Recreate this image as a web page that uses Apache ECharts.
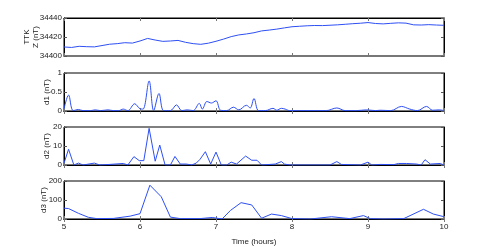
<!DOCTYPE html>
<html><head><meta charset="utf-8">
<script src="https://cdn.jsdelivr.net/npm/echarts@6/dist/echarts.min.js"></script>
<style>html,body{margin:0;padding:0;background:#fff}#c{width:491px;height:247px}</style>
</head><body><div id="c"></div>
<script>
// Time (hours)
const zTimes = [5.0,5.1,5.2,5.3,5.4,5.5,5.6,5.7,5.8,5.9,6.0,6.1,6.2,6.3,6.4,6.5,6.6,6.7,6.8,6.9,7.0,7.1,7.2,7.3,7.4,7.5,7.6,7.7,7.8,7.9,8.0,8.1,8.2,8.3,8.4,8.5,8.6,8.7,8.8,8.9,9.0,9.1,9.2,9.3,9.4,9.5,9.6,9.7,9.8,9.9,10.0];
const zValues = [34409.5,34409,34410.2,34409.8,34409.6,34411,34412.4,34413,34414,34413.6,34415.8,34418.5,34416.8,34415.4,34415.8,34416.4,34414.4,34413,34412.3,34413.5,34415.5,34417.8,34420.4,34422.2,34423.2,34424.5,34426.4,34427.3,34428.3,34429.6,34430.8,34431.3,34431.8,34432.1,34432.0,34432.4,34432.8,34433.4,34434,34434.5,34435.2,34434.2,34433.8,34434.4,34434.9,34434.6,34432.8,34432.6,34433,34432.6,34432.3];

const d1Times = [5.0,5.06,5.12,5.19,5.25,5.35,5.41,5.48,5.58,5.65,5.72,5.78,5.84,5.93,6.0,6.04,6.12,6.18,6.25,6.31,6.4,6.48,6.55,6.62,6.7,6.78,6.82,6.88,6.94,7.0,7.06,7.14,7.23,7.3,7.4,7.45,7.5,7.56,7.65,7.75,7.8,7.86,7.91,7.97,8.2,8.45,8.59,8.7,8.85,8.98,9.1,9.16,9.3,9.44,9.55,9.65,9.77,9.85,9.94,10.0];
const d1Values = [0.05,0.42,0.01,0.04,0.01,0.01,0.03,0.01,0.03,0.01,0.01,0.05,0.01,0.19,0.06,0.05,0.79,0.01,0.46,0.01,0.01,0.16,0.01,0.03,0.01,0.2,0.05,0.25,0.21,0.27,0.02,0.01,0.1,0.03,0.15,0.08,0.33,0.01,0.01,0.07,0.02,0.07,0.05,0.01,0.01,0.01,0.08,0.01,0.01,0.03,0.01,0.02,0.01,0.12,0.05,0.01,0.12,0.02,0.03,0.01];

const d2Times = [5.0,5.06,5.13,5.19,5.25,5.4,5.47,5.6,5.78,5.84,5.92,5.99,6.05,6.12,6.2,6.26,6.33,6.4,6.46,6.53,6.61,6.68,6.74,6.79,6.86,6.93,7.0,7.07,7.14,7.2,7.27,7.39,7.47,7.54,7.6,7.71,7.78,7.86,7.9,7.97,8.5,8.59,8.65,8.9,9.0,9.05,9.16,9.34,9.4,9.51,9.64,9.7,9.75,9.82,9.95,10.0];
const d2Values = [0.9,8.3,0,1,0,1,0,0.3,0.8,0,4.4,2.3,2.3,19.3,2,10.5,0,0,4.5,0.5,0.5,0,1,3,7,0.5,6.8,0,0,1.5,0.5,4.7,2.5,2.5,0,0.3,0.5,1.8,0.5,0,0,1.8,0.3,0,1.5,0,0.3,0.2,0.8,0.8,0.5,0,2.8,0.5,0.8,0];

const d3Times = [5.0,5.06,5.19,5.32,5.43,5.65,5.87,6.0,6.13,6.28,6.4,6.53,6.79,6.95,7.08,7.19,7.33,7.47,7.6,7.73,7.86,8.0,8.24,8.52,8.76,8.94,9.03,9.2,9.47,9.73,9.86,10.0];
const d3Values = [57,55,30,9,2,3,15,28,178,117,10,2,2,8,0,45,86,74,4,26,18,2,0,12,2,18,2,0,2,51,26,12];

const panelNames = ['TTK\nZ (nT)','d1 (nT)','d2 (nT)','d3 (nT)'];
const panelMin = [34400,0,0,0];
const panelMax = [34440,1,20,200];
const panelInterval = [20,0.5,10,100];
const xTicks = [5,6,7,8,9,10];
const xName = 'Time (hours)';

const FONT = 'Liberation Sans';
const LINE = '#2d4ff5';
const tops = [18,73,127,181];
const nameGaps = [24,13,13,16];
const grid = [], xAxis = [], yAxis = [], series = [];
const seriesData = [[zTimes,zValues],[d1Times,d1Values],[d2Times,d2Values],[d3Times,d3Values]];
for (let i = 0; i < 4; i++) {
  grid.push({left:64, right:47, top:tops[i], height:38, show:true, borderColor:'#000', borderWidth:1});
  const last = i === 3;
  xAxis.push({type:'value', gridIndex:i, min:xTicks[0], max:xTicks[xTicks.length-1], interval:1,
    position:'bottom',
    axisLine:{show:true, lineStyle:{color:'#777', width:2}},
    axisTick:{show:true, inside:true, length:3, lineStyle:{color:'#777'}},
    axisLabel:{show:last, color:'#222', fontFamily:FONT, fontSize:8, margin:4, showMinLabel:true, showMaxLabel:true,
      formatter:(v)=>String(v)},
    splitLine:{show:false},
    name: last ? xName : '', nameLocation:'middle', nameGap:19, nameMoveOverlap:false,
    nameTextStyle:{color:'#222', fontFamily:FONT, fontSize:8}});
  xAxis.push({type:'value', gridIndex:i, min:xTicks[0], max:xTicks[xTicks.length-1], interval:1,
    position:'top',
    axisLine:{show:true, lineStyle:{color:'#000', width:1}},
    axisTick:{show:true, inside:true, length:3, lineStyle:{color:'#777'}},
    axisLabel:{show:false}, splitLine:{show:false}});
  yAxis.push({type:'value', gridIndex:i, min:panelMin[i], max:panelMax[i], interval:panelInterval[i],
    position:'left',
    axisLine:{show:true, lineStyle:{color:'#000', width:1}},
    axisTick:{show:true, inside:true, length:3, lineStyle:{color:'#555'}},
    axisLabel:{color:'#222', fontFamily:FONT, fontSize:8, margin:2, showMinLabel:true, showMaxLabel:true,
      formatter:(v)=>String(v)},
    splitLine:{show:false},
    name:panelNames[i], nameLocation:'middle', nameRotate:90, nameGap:nameGaps[i], nameMoveOverlap:false,
    nameTextStyle:{color:'#222', fontFamily:FONT, fontSize:8, lineHeight:9}});
  yAxis.push({type:'value', gridIndex:i, min:panelMin[i], max:panelMax[i], interval:panelInterval[i],
    position:'right',
    axisLine:{show:true, lineStyle:{color:'#000', width:1}},
    axisTick:{show:true, inside:true, length:3, lineStyle:{color:'#555'}},
    axisLabel:{show:false}, splitLine:{show:false}});
  const [ts, vs] = seriesData[i];
  series.push({type:'line', xAxisIndex:2*i, yAxisIndex:2*i, showSymbol:false, symbol:'none',
    smooth: i === 1 ? 0.35 : false,
    lineStyle:{color:LINE, width:1}, animation:false,
    data: ts.map((t,k)=>[t, vs[k]])});
}
const chart = echarts.init(document.getElementById('c'), null, {renderer:'canvas'});
chart.setOption({animation:false, grid, xAxis, yAxis, series});
</script>
</body></html>
